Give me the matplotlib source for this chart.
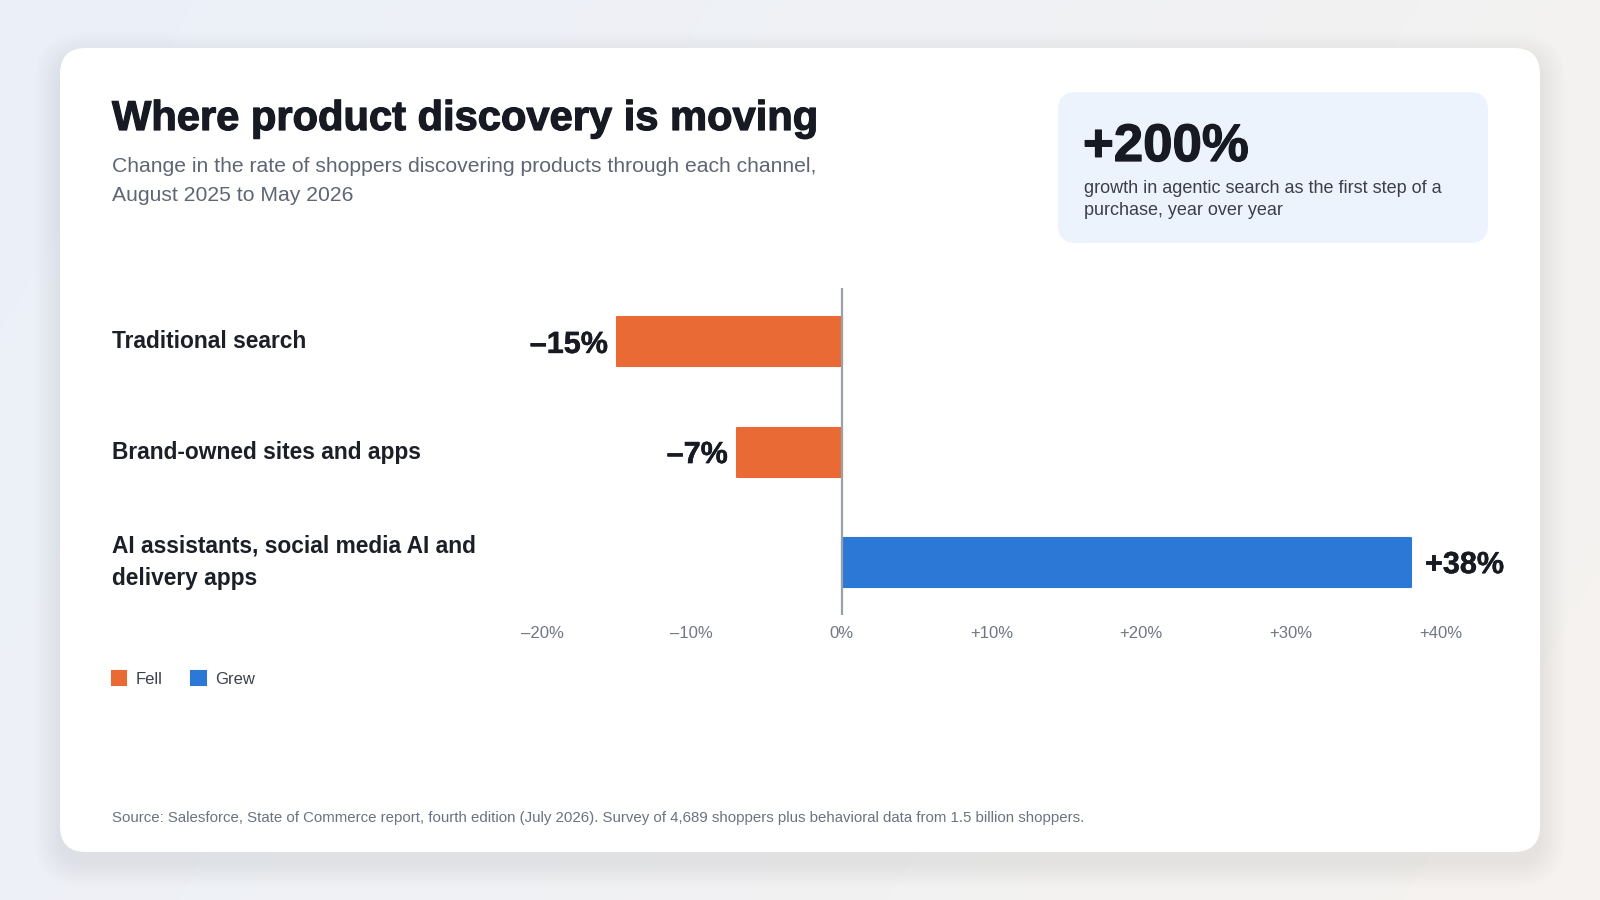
import numpy as np
import matplotlib
matplotlib.use("Agg")
import matplotlib.pyplot as plt
from matplotlib.patches import FancyBboxPatch, Patch
from matplotlib import transforms
import matplotlib.patheffects as pe

plt.rcParams['font.family'] = ['Liberation Sans', 'DejaVu Sans']

# data
channels = ["Traditional search", "Brand-owned sites and apps",
            "AI assistants, social media AI and\ndelivery apps"]
changes = [-15, -7, 38]
tick_values = [-20, -10, 0, 10, 20, 30, 40]
tick_labels = ["\u201320%", "\u201310%", "0%", "+10%", "+20%", "+30%", "+40%"]
value_labels = ["\u201315%", "\u20137%", "+38%"]

title = "Where product discovery is moving"
subtitle = ("Change in the rate of shoppers discovering products through each channel,\n"
            "August 2025 to May 2026")
stat_value = "+200%"
stat_text = "growth in agentic search as the first step of a\npurchase, year over year"
source = ("Source: Salesforce, State of Commerce report, fourth edition (July 2026). "
          "Survey of 4,689 shoppers plus behavioral data from 1.5 billion shoppers.")

FELL = "#e96a35"
GREW = "#2b78d6"
DARK = "#171a22"

W, H = 1600, 900
fig = plt.figure(figsize=(16, 9), dpi=100)

# background in pixel coordinates
bg = fig.add_axes([0, 0, 1, 1])
bg.set_xlim(0, W)
bg.set_ylim(H, 0)
bg.axis('off')

tl = np.array([235, 240, 249]) / 255
br = np.array([246, 243, 239]) / 255
gx, gy = np.meshgrid(np.linspace(0, 1, 400), np.linspace(0, 1, 225))
g = np.clip(0.75 * gx + 0.25 * gy, 0, 1)[..., None]
grad = tl * (1 - g) + br * g
bg.imshow(grad, extent=(0, W, H, 0), aspect='auto', interpolation='bilinear', zorder=0)

# card shadow + card
n = 16
for i in range(n):
    pad = 26 - i * 1.6
    bg.add_patch(FancyBboxPatch((60 - pad, 48 - pad + 10), 1480 + 2 * pad, 804 + 2 * pad,
                                boxstyle="round,pad=0,rounding_size=%.1f" % (26 + pad),
                                fc="#2a3553", ec="none", alpha=0.0055, zorder=1))
bg.add_patch(FancyBboxPatch((60, 48), 1480, 804, boxstyle="round,pad=0,rounding_size=26",
                            fc="white", ec="none", zorder=2))

bold_fx = [pe.withStroke(linewidth=0.9, foreground=DARK)]

# callout box
bg.add_patch(FancyBboxPatch((1058, 92), 430, 151, boxstyle="round,pad=0,rounding_size=18",
                            fc="#edf3fd", ec="none", zorder=3))
bg.text(1083, 147, stat_value, fontsize=38, fontweight='bold', color=DARK,
        va='center', ha='left', zorder=4, path_effects=bold_fx)
bg.text(1084, 199.5, stat_text, fontsize=13, color="#3a3f4a", va='center', ha='left',
        linespacing=1.45, zorder=4)

# title and subtitle
bg.text(112, 119, title, fontsize=30, fontweight='bold', color=DARK,
        va='center', ha='left', zorder=4, path_effects=bold_fx)
bg.text(112, 181, subtitle, fontsize=15.2, color="#5f6673", va='center', ha='left',
        linespacing=1.62, zorder=4)

# source
bg.text(112, 818, source, fontsize=10.85, color="#6b7280", va='center', ha='left', zorder=4)

# chart
ax = fig.add_axes([542 / W, 1 - 615 / H, 899 / W, 327 / H])
ax.set_facecolor('none')
y = np.arange(len(channels))
colors = [FELL if v < 0 else GREW for v in changes]
ax.barh(y, changes, height=0.445, color=colors, edgecolor=colors, linewidth=1.5,
        joinstyle='round', zorder=2)
ax.axvline(0, color="#9aa0a8", lw=1.6, zorder=3)
ax.set_xlim(-20, 40)
ax.set_ylim(2.48, -0.49)
ax.set_xticks(tick_values)
ax.set_xticklabels(tick_labels)
ax.tick_params(axis='x', length=0, pad=8, labelsize=12, labelcolor="#707783")
ax.set_yticks([])
for s in ax.spines.values():
    s.set_visible(False)

for yi, v, lab in zip(y, changes, value_labels):
    off = -9 if v < 0 else 14
    ax.annotate(lab, (v, yi), xytext=(off, -3), textcoords='offset pixels',
                ha='right' if v < 0 else 'left', va='center',
                fontsize=22, fontweight='bold', color=DARK, annotation_clip=False,
                path_effects=[pe.withStroke(linewidth=0.35, foreground=DARK)])

# category labels: x in pixels, y in data
tr = transforms.blended_transform_factory(bg.transData, ax.transData)
for yi, name in zip(y, channels):
    fig.text(112, yi, name, transform=tr, ha='left', va='center', fontsize=16.4,
             fontweight='bold', color="#1c1f27", linespacing=1.5)

# legend
handles = [Patch(facecolor=FELL, edgecolor=FELL, label="Fell", joinstyle='round', linewidth=1.5),
           Patch(facecolor=GREW, edgecolor=GREW, label="Grew", joinstyle='round', linewidth=1.5)]
leg = fig.legend(handles=handles, loc='center left', bbox_to_anchor=(97 / W, 1 - 679 / H),
                 ncol=2, frameon=False, fontsize=12, handlelength=0.85, handleheight=0.85,
                 handletextpad=0.55, columnspacing=1.75, labelcolor="#3b404b")

fig.savefig("out.png", dpi=100)
